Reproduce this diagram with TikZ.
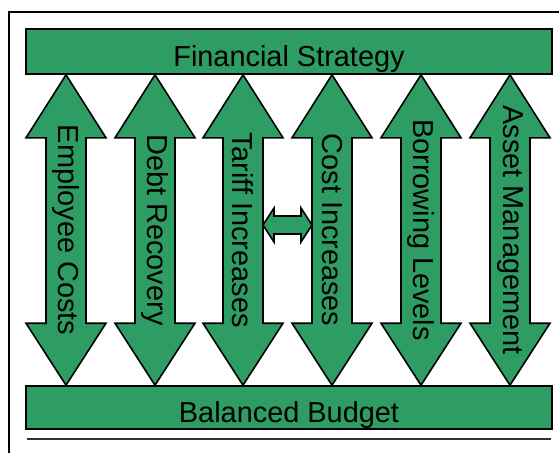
\documentclass[tikz,border=0pt]{standalone}
\usepackage{fontspec}
\setmainfont{Liberation Sans}
\usetikzlibrary{calc,positioning}
\definecolor{budgetgreen}{RGB}{45,157,100}

\begin{document}
\begin{tikzpicture}[x=.5pt,y=-.5pt,
  bar/.style={draw=black,fill=budgetgreen,line width=.8pt,minimum width=263pt,
    inner sep=0pt,text height=15pt,text depth=0pt,font=\fontsize{14.45}{17}\selectfont},
  shaft/.style={draw=black,fill=budgetgreen,line width=.8pt,line join=miter},
  lbl/.style={rotate=-90,inner sep=0pt,font=\fontsize{14.45}{17}\selectfont}]
\useasboundingbox (0,0) rectangle (559,452);
\draw[line width=1pt] (9,460)--(9,12)--(560,12);
\node[bar,minimum height=22.5pt] (strategy) at (289,51.5) {Financial Strategy};
\node[bar,minimum height=21.5pt] (budget) at (289,407.5) {Balanced Budget};
\draw[line width=.8pt,black!80] (27,439)--(551,439);
% the six two-way arrows between strategy and budget
\foreach \c/\t [count=\i] in {66/Employee Costs,155/Debt Recovery,243/Tariff Increases,
    332/Cost Increases,421/Borrowing Levels,510/Asset Management}{
  \coordinate (c\i) at (\c,0);
  \draw[shaft] (c\i |- strategy.south) -- ++(40,63) -- ++(-20,0)
    -- ($(c\i |- budget.north)+(20,-62)$) -- ++(20,0) -- (c\i |- budget.north)
    -- ++(-40,-62) -- ++(20,0) -- ($(c\i |- strategy.south)+(-20,63)$) -- ++(-20,0) -- cycle;
  \node[lbl] (l\i) at ($(c\i |- strategy.south)!.5!(c\i |- budget.north)$) {\t};
}
% short link between tariffs and costs
\coordinate (link) at (288,225);
\draw[shaft] ($(c3 |- link)+(20,0)$) -- ++(11,-17) -- ++(0,8) -- ($(c4 |- link)+(-31,-9)$)
  -- ++(0,-8) -- ($(c4 |- link)+(-20,0)$) -- ++(-11,17) -- ++(0,-8)
  -- ($(c3 |- link)+(31,9)$) -- ++(0,8) -- cycle;
\end{tikzpicture}
\end{document}
